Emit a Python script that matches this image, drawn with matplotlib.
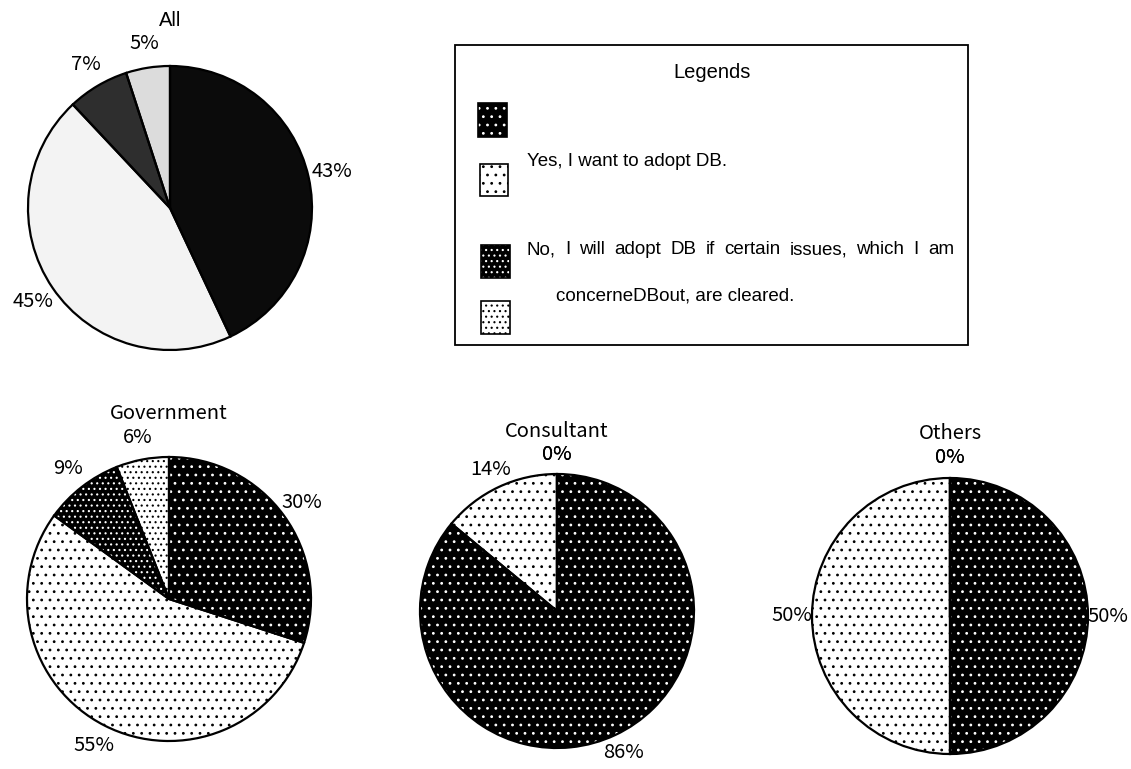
import matplotlib
matplotlib.use("Agg")
import matplotlib.pyplot as plt
from matplotlib.patches import Rectangle

# Survey shares (percent) per respondent group, clockwise from 12 o'clock
groups = ["All", "Government", "Consultant", "Others"]
all_share = [43, 45, 7, 5]
government_share = [30, 55, 9, 6]
consultant_share = [86, 14, 0, 0]
others_share = [50, 50, 0, 0]

legend_title = "Legends"
legend_line_yes = "Yes, I want to adopt DB."
legend_line_no_1 = "No, I will adopt DB if certain issues, which I am"
legend_line_no_2 = "concerneDBout, are cleared."

W, H = 1131, 769
fig = plt.figure(figsize=(W / 100, H / 100), dpi=100)
fig.patch.set_facecolor("white")
plt.rcParams["hatch.linewidth"] = 0.8

PCT_FONT = ["Noto Sans CJK JP", "DejaVu Sans"]
LEG_FONT = ["Liberation Sans", "DejaVu Sans"]
LEG_SIZE = 13.5

# fill styles: (face, dot colour, hatch)
solid_styles = [("#0b0b0b", None, None), ("#f3f3f3", None, None),
                ("#2e2e2e", None, None), ("#dcdcdc", None, None)]
dot_styles = [("black", "white", ".."), ("white", "black", ".."),
              ("black", "white", "..."), ("white", "black", "...")]


def pie_axes(cx, cy, r):
    return fig.add_axes([(cx - r) / W, 1 - (cy + r) / H, 2 * r / W, 2 * r / H])


def draw_pie(ax, values, styles, title, title_y, title_font, title_size,
             pct_dist=1.16):
    wedges, _, pct_texts = ax.pie(
        values, startangle=90, counterclock=False, radius=1,
        autopct=lambda p: f"{p:.0f}%", pctdistance=pct_dist,
        wedgeprops=dict(linewidth=0),
        textprops=dict(family=PCT_FONT, fontsize=14.5, color="black"))
    for w, (face, dot, hatch) in zip(wedges, styles):
        w.set_facecolor(face)
        if hatch:
            w.set_hatch(hatch)
            w.set_edgecolor(dot)
        else:
            w.set_edgecolor(face)
    ax.pie(values, startangle=90, counterclock=False, radius=1,
           wedgeprops=dict(fill=False, edgecolor="black", linewidth=1.6))
    ax.set_xlim(-1, 1)
    ax.set_ylim(-1, 1)
    ax.set_aspect("equal")
    ax.axis("off")
    for t in pct_texts:
        t.set_clip_on(False)
    ax.text(0, title_y, title, ha="center", va="center",
            family=title_font, fontsize=title_size, clip_on=False)


ax_all = pie_axes(170, 208, 142)
draw_pie(ax_all, all_share, solid_styles, groups[0], 1.318, LEG_FONT, 14.5,
         pct_dist=1.17)

ax_gov = pie_axes(169, 599, 142)
draw_pie(ax_gov, government_share, dot_styles, groups[1], 1.305, PCT_FONT, 14.5)

ax_con = pie_axes(557, 611, 137)
draw_pie(ax_con, consultant_share, dot_styles, groups[2], 1.31, PCT_FONT, 14.5,
         pct_dist=1.145)

ax_oth = pie_axes(950, 616, 138)
draw_pie(ax_oth, others_share, dot_styles, groups[3], 1.32, PCT_FONT, 14.5,
         pct_dist=1.145)

# Legend panel drawn in pixel coordinates
lax = fig.add_axes([0, 0, 1, 1])
lax.set_xlim(0, W)
lax.set_ylim(H, 0)
lax.axis("off")
lax.set_zorder(-1)

lax.add_patch(Rectangle((455, 45), 513, 300, fill=False, edgecolor="black",
                        linewidth=1.3))
lax.text(712, 72, legend_title, ha="center", va="center",
         family=LEG_FONT, fontsize=14.5)

swatches = [(478, 103, 29, 34), (480, 164, 28, 32),
            (481, 245, 29, 33), (481, 301, 29, 33)]
for (x, y, w, h), (face, dot, hatch) in zip(swatches, dot_styles):
    lax.add_patch(Rectangle((x, y), w, h, facecolor=face, edgecolor=dot,
                            hatch=hatch, linewidth=0))
    lax.add_patch(Rectangle((x, y), w, h, fill=False, edgecolor="black",
                            linewidth=1.2))

lax.text(527, 161, legend_line_yes, ha="left", va="center",
         family=LEG_FONT, fontsize=LEG_SIZE)

# justified first line of the long entry
words = legend_line_no_1.split()
renderer = fig.canvas.get_renderer()
word_texts = [lax.text(0, 250, w_, ha="left", va="center",
                       family=LEG_FONT, fontsize=LEG_SIZE) for w_ in words]
widths = [t.get_window_extent(renderer).width for t in word_texts]
x_left, x_right = 527, 954
gap = (x_right - x_left - sum(widths)) / (len(words) - 1)
x = x_left
for t, wd in zip(word_texts, widths):
    t.set_x(x)
    x += wd + gap

lax.text(556, 296, legend_line_no_2, ha="left", va="center",
         family=LEG_FONT, fontsize=LEG_SIZE)

fig.savefig("out.png", dpi=100, facecolor="white")
